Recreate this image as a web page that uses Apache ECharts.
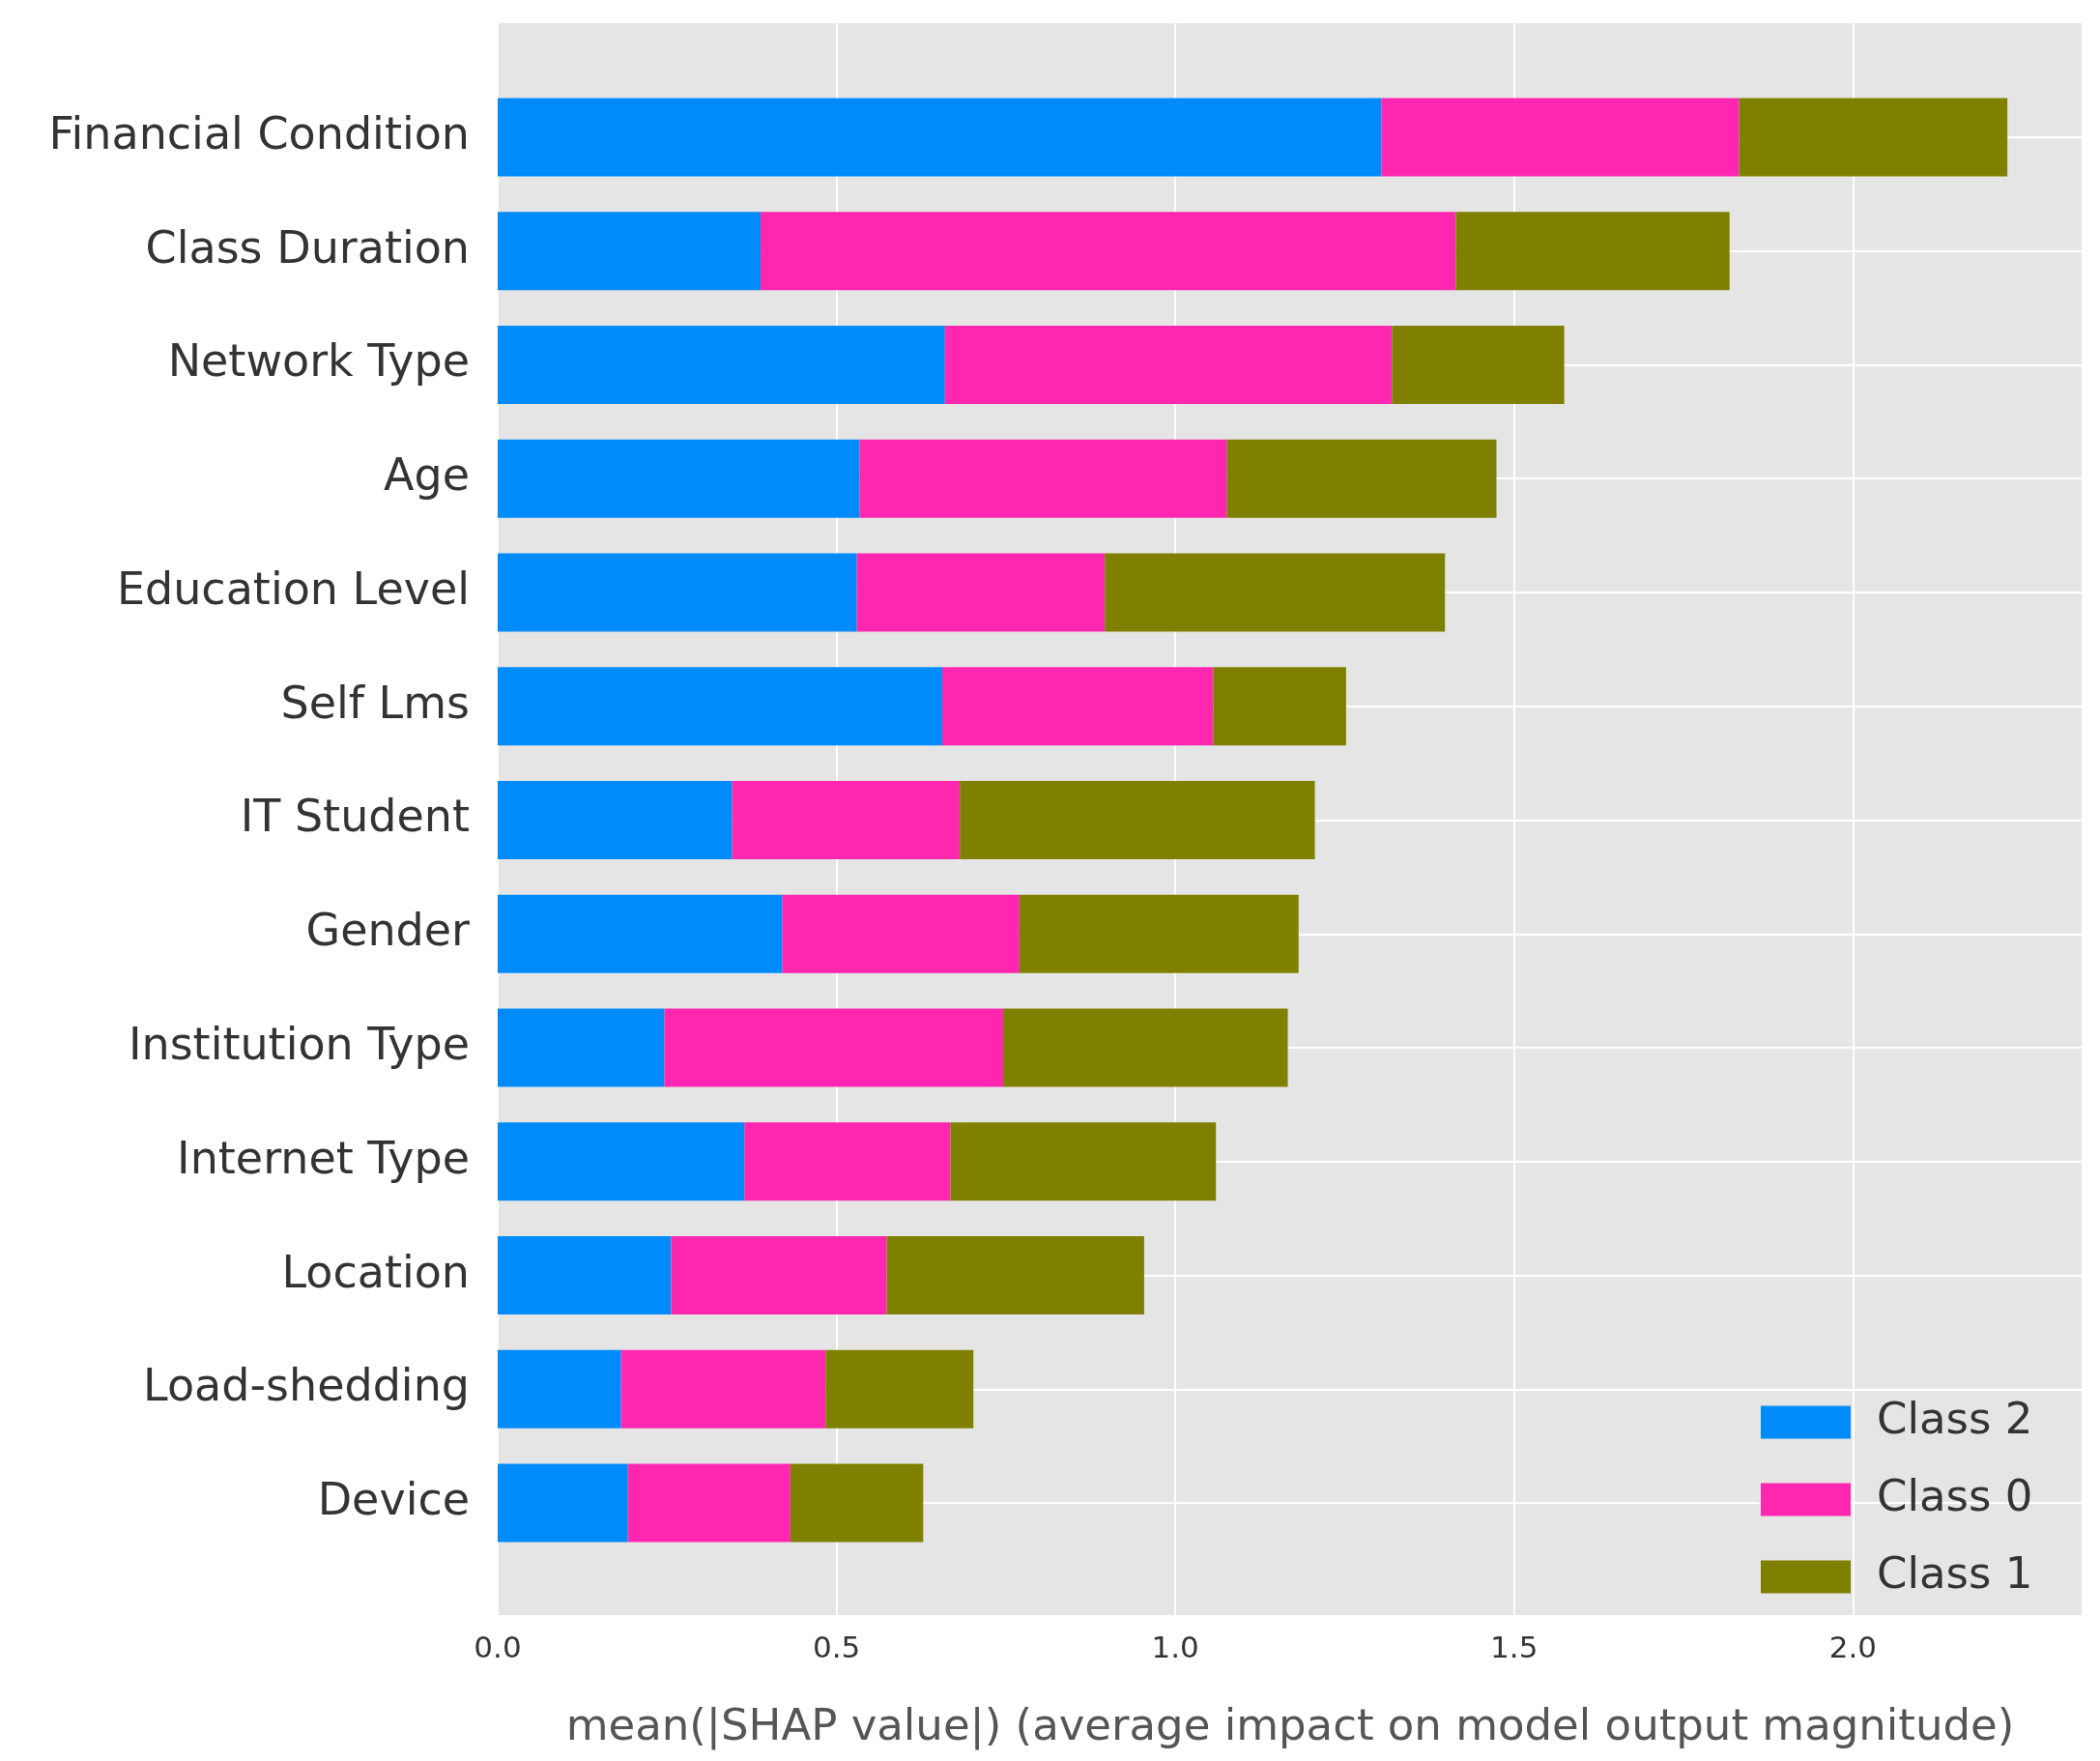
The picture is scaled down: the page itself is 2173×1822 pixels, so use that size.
<!DOCTYPE html>
<html><head><meta charset="utf-8">
<script src="https://cdn.jsdelivr.net/npm/echarts@6/dist/echarts.min.js"></script>
<style>html,body{margin:0;padding:0;background:#fff}#c{width:2173px;height:1822px}</style>
</head><body><div id="c"></div>
<script>
const categories = ["Financial Condition","Class Duration","Network Type","Age","Education Level","Self Lms","IT Student","Gender","Institution Type","Internet Type","Location","Load-shedding","Device"];
const class2 = [1.304,0.388,0.66,0.534,0.53,0.656,0.346,0.42,0.246,0.364,0.256,0.182,0.192];
const class0 = [0.528,1.026,0.66,0.542,0.366,0.40,0.336,0.35,0.50,0.304,0.318,0.302,0.24];
const class1 = [0.396,0.404,0.254,0.398,0.502,0.196,0.524,0.412,0.42,0.392,0.38,0.218,0.196];
const xTicks = [0,0.5,1.0,1.5,2.0];
const F = 'DejaVu Sans';
const chart = echarts.init(document.getElementById('c'));
const bar = (name, data, color) => ({name, type:'bar', stack:'s', data, xAxisIndex:1, yAxisIndex:1,
  barWidth:81, itemStyle:{color}, emphasis:{disabled:true}});
chart.setOption({
  animation:false,
  textStyle:{fontFamily:F},
  grid:[
    {left:515, top:24, width:1640, height:1647, show:true, backgroundColor:'#e5e5e5', borderWidth:0},
    {left:515, top:83, width:1640, height:1531}
  ],
  xAxis:[
    {gridIndex:0, type:'value', min:0, max:2.339, interval:0.5,
     axisLine:{show:false}, axisTick:{show:false},
     splitLine:{lineStyle:{color:'#fff', width:2}},
     axisLabel:{fontFamily:F, fontSize:31, color:'#333', margin:20,
       formatter:v => xTicks.includes(v) ? v.toFixed(1) : ''},
     name:'mean(|SHAP value|) (average impact on model output magnitude)',
     nameLocation:'middle', nameGap:95, nameTextStyle:{fontFamily:F, fontSize:45, color:'#555'}},
    {gridIndex:1, type:'value', min:0, max:2.339, show:false}
  ],
  yAxis:[
    {gridIndex:0, type:'value', show:false},
    {gridIndex:1, type:'category', data:categories, inverse:true,
     axisLine:{show:false}, axisTick:{show:false},
     splitLine:{show:false},
     axisLabel:{fontFamily:F, fontSize:46, color:'#333', margin:29}}
  ],
  legend:{orient:'vertical', left:1817, top:1444, itemWidth:93, itemHeight:34, itemGap:35,
    icon:'rect', textStyle:{fontFamily:F, fontSize:45, color:'#333', padding:[0,0,0,22]},
    data:['Class 2','Class 0','Class 1']},
  series:[
    bar('Class 2', class2, '#008bfb'),
    bar('Class 0', class0, '#ff26b0'),
    bar('Class 1', class1, '#808000'),
    {type:'line', xAxisIndex:1, yAxisIndex:1, data:[], markLine:{silent:true, symbol:'none', label:{show:false},
      lineStyle:{color:'#fff', width:2, type:'solid'}, z:0,
      data:categories.map(c=>({yAxis:c}))}, z:0}
  ]
});
</script></body></html>
